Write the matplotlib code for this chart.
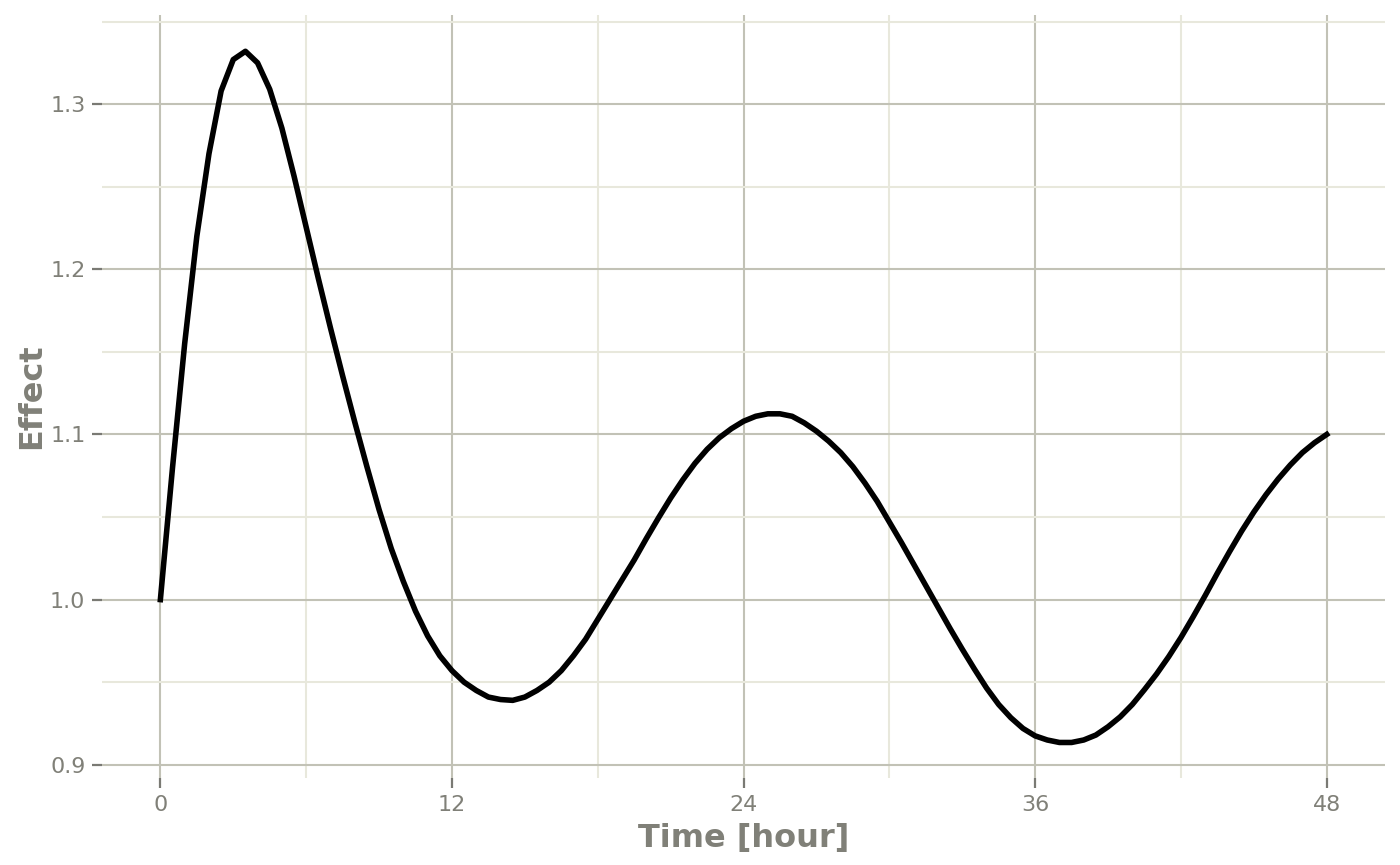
import numpy as np
import matplotlib
matplotlib.use('Agg')
import matplotlib.pyplot as plt
from matplotlib.ticker import MultipleLocator

# values (every half hour)
hours = [i * 0.5 for i in range(97)]
effect = [1.000, 1.080, 1.155, 1.220, 1.270, 1.308, 1.327, 1.332, 1.325, 1.309,
          1.2855, 1.2565, 1.2255, 1.1945, 1.1645, 1.1355, 1.1075, 1.0805, 1.0545, 1.031,
          1.011, 0.993, 0.978, 0.966, 0.957, 0.950, 0.945, 0.941, 0.9395, 0.939,
          0.941, 0.945, 0.950, 0.957, 0.966, 0.976, 0.988, 1.000, 1.012, 1.024,
          1.037, 1.0495, 1.0615, 1.0725, 1.0825, 1.091, 1.098, 1.1035, 1.108, 1.111,
          1.1125, 1.1125, 1.111, 1.107, 1.102, 1.096, 1.089, 1.0805, 1.0705, 1.0595,
          1.047, 1.0345, 1.0215, 1.0085, 0.9955, 0.9825, 0.970, 0.958, 0.9465, 0.9365,
          0.9285, 0.922, 0.9175, 0.915, 0.9135, 0.9135, 0.915, 0.918, 0.923, 0.929,
          0.9365, 0.9455, 0.955, 0.9655, 0.977, 0.9895, 1.0025, 1.016, 1.029, 1.0415,
          1.053, 1.0635, 1.073, 1.0815, 1.089, 1.095, 1.100]

x_ticks = [0, 12, 24, 36, 48]
y_ticks = [0.9, 1.0, 1.1, 1.2, 1.3]

major_col = '#c2c2b6'
minor_col = '#e8e8dc'
text_col = '#808078'

fig = plt.figure(figsize=(14, 8.65), dpi=100)
ax = fig.add_axes([0.0729, 0.1006, 0.9164, 0.8821])

ax.plot(hours, effect, color='black', lw=4, solid_joinstyle='round', zorder=3)

ax.set_xlim(-2.4, 50.4)
ax.set_ylim(0.892, 1.354)

ax.set_xticks(x_ticks)
ax.set_yticks(y_ticks)
ax.set_yticklabels([f'{v:.1f}' for v in y_ticks])
ax.xaxis.set_minor_locator(MultipleLocator(6))
ax.yaxis.set_minor_locator(MultipleLocator(0.05))

ax.grid(which='major', color=major_col, lw=1.5)
ax.grid(which='minor', color=minor_col, lw=1.5)
ax.set_axisbelow(True)

for s in ax.spines.values():
    s.set_visible(False)

ax.tick_params(which='major', length=7, width=1.6, color='#7a7a74',
               labelcolor=text_col, labelsize=16, pad=5)
ax.tick_params(which='minor', length=0)

ax.set_xlabel('Time [hour]', fontsize=23, fontweight='bold', color=text_col, labelpad=6)
ax.set_ylabel('Effect', fontsize=23, fontweight='bold', color=text_col, labelpad=2)

fig.savefig('out.png', dpi=100)
